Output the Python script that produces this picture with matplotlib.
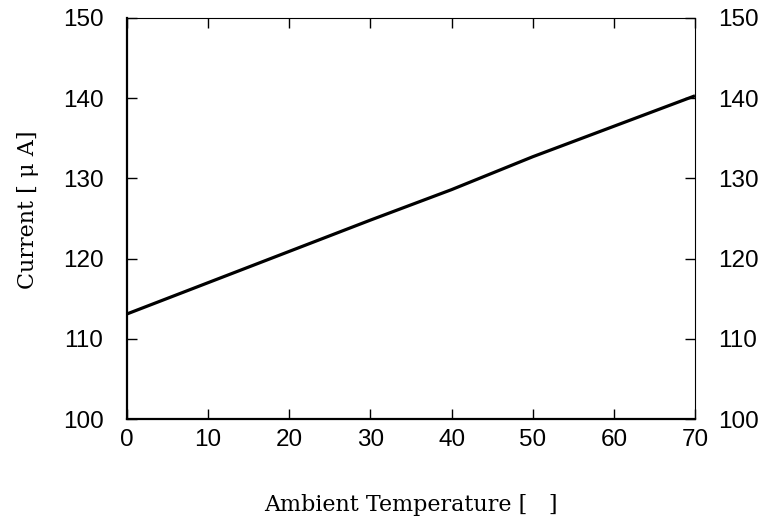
import matplotlib
matplotlib.use("Agg")
import matplotlib.pyplot as plt

temperature = [0, 10, 20, 30, 40, 50, 60, 70]
current = [113.1, 117.0, 120.9, 124.8, 128.6, 132.7, 136.5, 140.3]
x_ticks = [0, 10, 20, 30, 40, 50, 60, 70]
y_ticks = [100, 110, 120, 130, 140, 150]
x_label = "Ambient Temperature [   ]"
y_label = "Current [ μ A]"

fig = plt.figure(figsize=(7.67, 5.21), dpi=100)
ax = fig.add_axes([127/767, 1-419/521, (695-127)/767, (419-18)/521])

ax.plot(temperature, current, color="black", lw=2.3, solid_capstyle="butt")
ax.set_xlim(0, 70)
ax.set_ylim(100, 150)
ax.set_xticks(x_ticks)
ax.set_yticks(y_ticks)

tick_font = dict(family="Liberation Sans", size=17.5)
ax.set_xticklabels([str(t) for t in x_ticks], **tick_font)
ax.set_yticklabels([str(t) for t in y_ticks], **tick_font)
ax.tick_params(direction="in", length=7, width=1, top=True, right=True,
               labelright=True)
ax.tick_params(axis="y", pad=17)
ax.tick_params(axis="x", pad=7)

for s in ["left", "bottom"]:
    ax.spines[s].set_linewidth(1.6)
for s in ["top", "right"]:
    ax.spines[s].set_linewidth(0.8)

ax.set_xlabel(x_label, family="DejaVu Serif", size=16, va="center")
ax.xaxis.set_label_coords(0.5, -0.2145)
ax.set_ylabel(y_label, family="DejaVu Serif", size=16, va="center")
ax.yaxis.set_label_coords(-0.1743, 0.521)

fig.savefig("out.png", dpi=100)
